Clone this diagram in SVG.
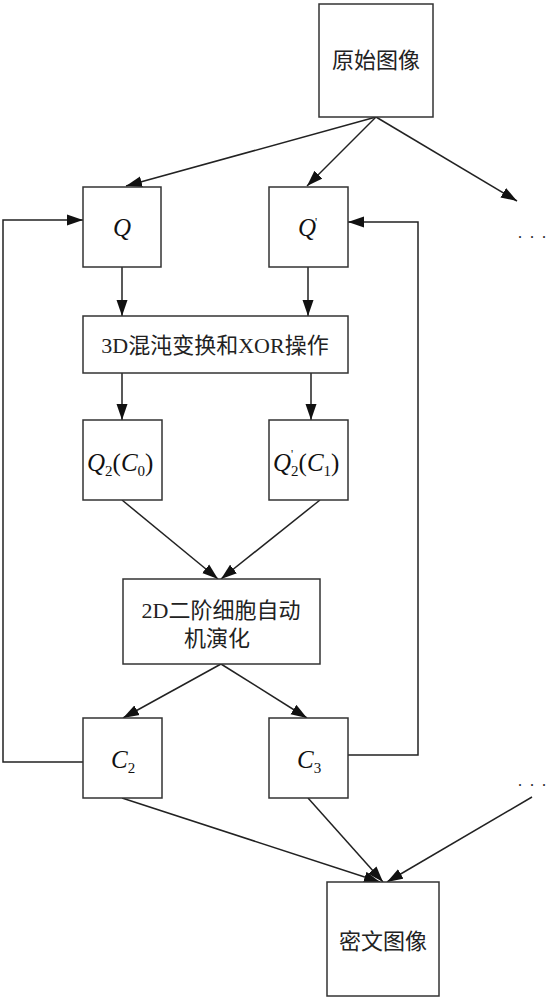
<svg xmlns="http://www.w3.org/2000/svg" width="549" height="1000" viewBox="0 0 549 1000">
<style>
.box{fill:#fff;stroke:#333;stroke-width:1.5}
.ln{fill:none;stroke:#222;stroke-width:1.5}
.cn{font-family:"Liberation Serif","Noto Sans CJK SC",serif;font-size:22px;fill:#222;text-anchor:middle}
.m{font-family:"Liberation Serif",serif;font-style:italic;font-size:25px;fill:#111}
.s{font-size:15px;font-style:normal}
.dots{font-family:"Liberation Serif",serif;font-size:16px;fill:#222}
</style>
<defs>
<marker id="ah" markerUnits="userSpaceOnUse" markerWidth="16" markerHeight="12" refX="16" refY="6" orient="auto">
<path d="M0,0.5 L16,6 L0,11.5 z" fill="#111"/>
</marker>
</defs>
<rect width="549" height="1000" fill="#fff"/>
<g id="connectors" class="ln">
<line x1="376" y1="117" x2="126" y2="186" marker-end="url(#ah)"/>
<line x1="376" y1="117" x2="307" y2="186" marker-end="url(#ah)"/>
<line x1="376" y1="117" x2="517" y2="201" marker-end="url(#ah)"/>
<line x1="122" y1="267" x2="122" y2="316" marker-end="url(#ah)"/>
<line x1="308" y1="267" x2="308" y2="316" marker-end="url(#ah)"/>
<line x1="122" y1="373" x2="122" y2="420" marker-end="url(#ah)"/>
<line x1="311" y1="373" x2="311" y2="420" marker-end="url(#ah)"/>
<line x1="122" y1="500" x2="218" y2="579" marker-end="url(#ah)"/>
<line x1="320" y1="500" x2="221" y2="579" marker-end="url(#ah)"/>
<line x1="221" y1="664" x2="123" y2="718" marker-end="url(#ah)"/>
<line x1="221" y1="664" x2="307" y2="718" marker-end="url(#ah)"/>
<polyline points="83,762 3,762 3,220 83,220" marker-end="url(#ah)"/>
<polyline points="348,755 418,755 418,222 348,222" marker-end="url(#ah)"/>
<line x1="122" y1="798" x2="380" y2="882" marker-end="url(#ah)"/>
<line x1="308" y1="798" x2="383" y2="882" marker-end="url(#ah)"/>
<line x1="532" y1="797" x2="387" y2="882" marker-end="url(#ah)"/>
</g>
<g id="n-orig">
<rect class="box" x="319" y="4" width="114" height="113"/>
<text class="cn" x="376" y="68">原始图像</text>
</g>
<g id="n-Q">
<rect class="box" x="83" y="187" width="78" height="80"/>
<text class="m" x="122" y="236" text-anchor="middle">Q</text>
</g>
<g id="n-Qp">
<rect class="box" x="269" y="187" width="79" height="80"/>
<text class="m" x="307" y="236" text-anchor="middle">Q</text>
<text class="m" x="315" y="226" style="font-size:12px;font-style:normal">'</text>
</g>
<g id="n-3d">
<rect class="box" x="83" y="316" width="265" height="57"/>
<text class="cn" x="215" y="353">3D混沌变换和XOR操作</text>
</g>
<g id="n-Q2">
<rect class="box" x="83" y="420" width="79" height="80"/>
<text class="m" x="87" y="471">Q<tspan class="s" dy="5">2</tspan><tspan dy="-5" style="font-style:normal">(</tspan>C<tspan class="s" dy="5">0</tspan><tspan dy="-5" style="font-style:normal">)</tspan></text>
</g>
<g id="n-Q2p">
<rect class="box" x="269" y="420" width="79" height="80"/>
<text class="m" x="273" y="471">Q<tspan class="s" dy="5">2</tspan><tspan dy="-5" style="font-style:normal">(</tspan>C<tspan class="s" dy="5">1</tspan><tspan dy="-5" style="font-style:normal">)</tspan></text>
<text class="m" x="291" y="458" style="font-size:12px;font-style:normal">'</text>
</g>
<g id="n-2d">
<rect class="box" x="123" y="579" width="197" height="85"/>
<text class="cn" x="221" y="618">2D二阶细胞自动</text>
<text class="cn" x="217" y="646">机演化</text>
</g>
<g id="n-C2">
<rect class="box" x="83" y="718" width="79" height="80"/>
<text class="m" x="111" y="768">C<tspan class="s" dy="5">2</tspan></text>
</g>
<g id="n-C3">
<rect class="box" x="269" y="718" width="79" height="80"/>
<text class="m" x="297" y="768">C<tspan class="s" dy="5">3</tspan></text>
</g>
<g id="n-cipher">
<rect class="box" x="327" y="882" width="112" height="114"/>
<text class="cn" x="383" y="949">密文图像</text>
</g>
<g id="n-dots1"><text class="dots" x="518 530 542" y="238">...</text></g>
<g id="n-dots2"><text class="dots" x="518 530 542" y="786">...</text></g>
</svg>
